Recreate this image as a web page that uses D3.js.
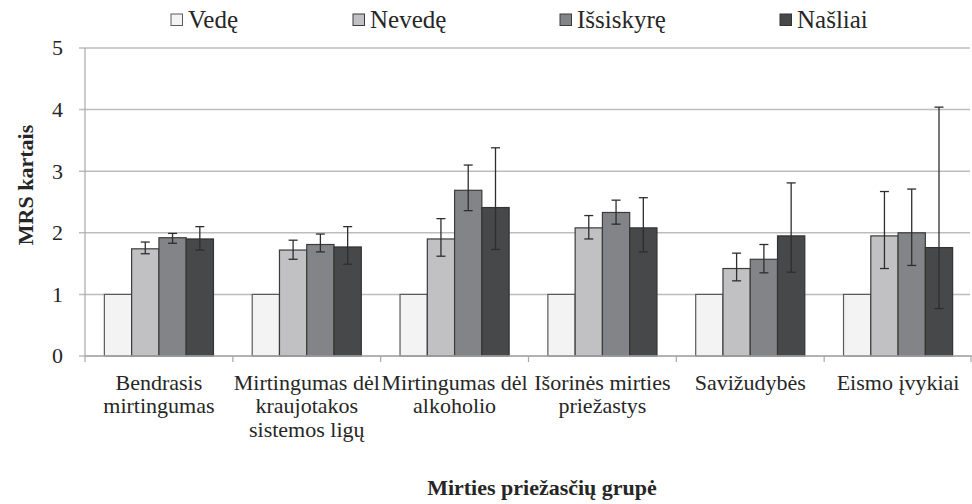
<!DOCTYPE html>
<html><head><meta charset="utf-8"><script src="https://cdn.jsdelivr.net/npm/d3@7"></script></head>
<body style="margin:0">
<svg id="chart" width="972" height="504"></svg>
<script>
// ---- data ----
const categories = [
  ["Bendrasis", "mirtingumas"],
  ["Mirtingumas dėl", "kraujotakos", "sistemos ligų"],
  ["Mirtingumas dėl", "alkoholio"],
  ["Išorinės mirties", "priežastys"],
  ["Savižudybės"],
  ["Eismo įvykiai"]
];
const seriesNames = ["Vedę", "Nevedę", "Išsiskyrę", "Našliai"];
const vede       = [1, 1, 1, 1, 1, 1];
const nevede     = [1.74, 1.72, 1.90, 2.08, 1.42, 1.95];
const issiskyre  = [1.92, 1.81, 2.69, 2.33, 1.57, 2.00];
const nasliai    = [1.90, 1.77, 2.41, 2.08, 1.95, 1.76];
// confidence intervals (lower / upper); Vedę is the reference, no interval
const nevedeLo    = [1.66, 1.57, 1.62, 1.90, 1.22, 1.42];
const nevedeHi    = [1.85, 1.88, 2.23, 2.28, 1.67, 2.67];
const issiskyreLo = [1.83, 1.69, 2.36, 2.14, 1.35, 1.47];
const issiskyreHi = [1.99, 1.98, 3.10, 2.53, 1.81, 2.71];
const nasliaiLo   = [1.72, 1.49, 1.73, 1.69, 1.36, 0.77];
const nasliaiHi   = [2.10, 2.10, 3.38, 2.57, 2.81, 4.04];
const yTicks = [0, 1, 2, 3, 4, 5];
const yTitle = "MRS kartais";
const xTitle = "Mirties priežasčių grupė";

const seriesValues = [vede, nevede, issiskyre, nasliai];
const seriesLo = [null, nevedeLo, issiskyreLo, nasliaiLo];
const seriesHi = [null, nevedeHi, issiskyreHi, nasliaiHi];
const colors = ["#f2f3f2", "#c1c1c3", "#838487", "#47484a"];
const strokes = ["#5a5a5a", "#3c3c3c", "#3c3c3c", "#333333"];
const FONT = "Liberation Serif";

// ---- layout ----
const svg = d3.select("#chart");
const plotL = 85, plotR = 972, plotT = 48, plotB = 356;

const x0 = d3.scaleBand().domain(d3.range(categories.length)).range([plotL, plotR]).paddingInner(0).paddingOuter(0);
const x1 = d3.scaleBand().domain(d3.range(seriesNames.length)).range([0, x0.bandwidth()]).paddingOuter(0.71).paddingInner(0);
const y = d3.scaleLinear().domain([0, 5]).range([plotB, plotT]);

// gridlines
svg.append("g").selectAll("line").data(yTicks).join("line")
  .attr("x1", plotL - 6).attr("x2", plotR - 2)
  .attr("y1", d => y(d)).attr("y2", d => y(d))
  .attr("stroke", "#bdbdbd").attr("stroke-width", 1.5);

// y tick labels
svg.append("g").selectAll("text").data(yTicks).join("text")
  .attr("x", 63).attr("y", d => y(d) + 7.3)
  .attr("text-anchor", "end")
  .attr("font-family", FONT).style("font-family", FONT)
  .attr("font-size", 22).attr("fill", "#262626")
  .text(d => d3.format("d")(d));

// y axis line
svg.append("line").attr("x1", plotL).attr("x2", plotL).attr("y1", plotT).attr("y2", plotB)
  .attr("stroke", "#a8a8a8").attr("stroke-width", 1.2);

// bars
const groups = svg.append("g").selectAll("g").data(categories).join("g")
  .attr("transform", (d, i) => `translate(${x0(i)},0)`);

seriesNames.forEach((s, si) => {
  groups.append("rect")
    .attr("x", (d, i) => x1(si))
    .attr("y", (d, i) => y(seriesValues[si][i]))
    .attr("width", x1.bandwidth())
    .attr("height", (d, i) => y(0) - y(seriesValues[si][i]))
    .attr("fill", colors[si])
    .attr("stroke", strokes[si])
    .attr("stroke-width", 1.2);
});

// error bars
seriesNames.forEach((s, si) => {
  if (!seriesLo[si]) return;
  const cx = x1(si) + x1.bandwidth() / 2;
  groups.append("line")
    .attr("x1", cx).attr("x2", cx)
    .attr("y1", (d, i) => y(seriesLo[si][i]))
    .attr("y2", (d, i) => y(seriesHi[si][i]))
    .attr("stroke", "#2e2e2e").attr("stroke-width", 1.3);
  [seriesLo[si], seriesHi[si]].forEach(arr => {
    groups.append("line")
      .attr("x1", cx - 4.5).attr("x2", cx + 4.5)
      .attr("y1", (d, i) => y(arr[i]))
      .attr("y2", (d, i) => y(arr[i]))
      .attr("stroke", "#2e2e2e").attr("stroke-width", 1.3);
  });
});

// x axis line and category ticks
svg.append("line").attr("x1", plotL).attr("x2", plotR).attr("y1", plotB).attr("y2", plotB)
  .attr("stroke", "#a8a8a8").attr("stroke-width", 1.5);
const bounds = d3.range(categories.length + 1).map(i => i < categories.length ? x0(i) : plotR - 1);
svg.append("g").selectAll("line").data(bounds).join("line")
  .attr("x1", d => d).attr("x2", d => d).attr("y1", plotB).attr("y2", plotB + 6)
  .attr("stroke", "#a8a8a8").attr("stroke-width", 1.2);

// category labels (one text per line)
categories.forEach((lines, ci) => {
  svg.append("g").selectAll("text").data(lines).join("text")
    .attr("x", x0(ci) + x0.bandwidth() / 2)
    .attr("y", (d, li) => 390 + li * 23.4)
    .attr("text-anchor", "middle")
    .attr("font-family", FONT).style("font-family", FONT)
    .attr("font-size", 22).attr("fill", "#262626")
    .text(d => d);
});

// axis titles
svg.append("text").attr("transform", `translate(33,185) rotate(-90)`)
  .attr("text-anchor", "middle").attr("font-family", FONT).style("font-family", FONT)
  .attr("font-size", 22).attr("font-weight", "bold").attr("fill", "#262626")
  .text(yTitle);
svg.append("text").attr("x", 542).attr("y", 495)
  .attr("text-anchor", "middle").attr("font-family", FONT).style("font-family", FONT)
  .attr("font-size", 22).attr("font-weight", "bold").attr("fill", "#262626")
  .text(xTitle);

// legend
const legendX = [171, 353, 560, 780];
const lg = svg.append("g").selectAll("g").data(seriesNames).join("g")
  .attr("transform", (d, i) => `translate(${legendX[i]},0)`);
lg.append("rect").attr("x", 0).attr("y", 14).attr("width", 11.5).attr("height", 11.5)
  .attr("fill", (d, i) => colors[i]).attr("stroke", (d, i) => strokes[i]).attr("stroke-width", 1);
lg.append("text").attr("x", 17).attr("y", 27.5)
  .attr("font-family", FONT).style("font-family", FONT)
  .attr("font-size", 25).attr("fill", "#262626")
  .text(d => d);
</script>
</body></html>
